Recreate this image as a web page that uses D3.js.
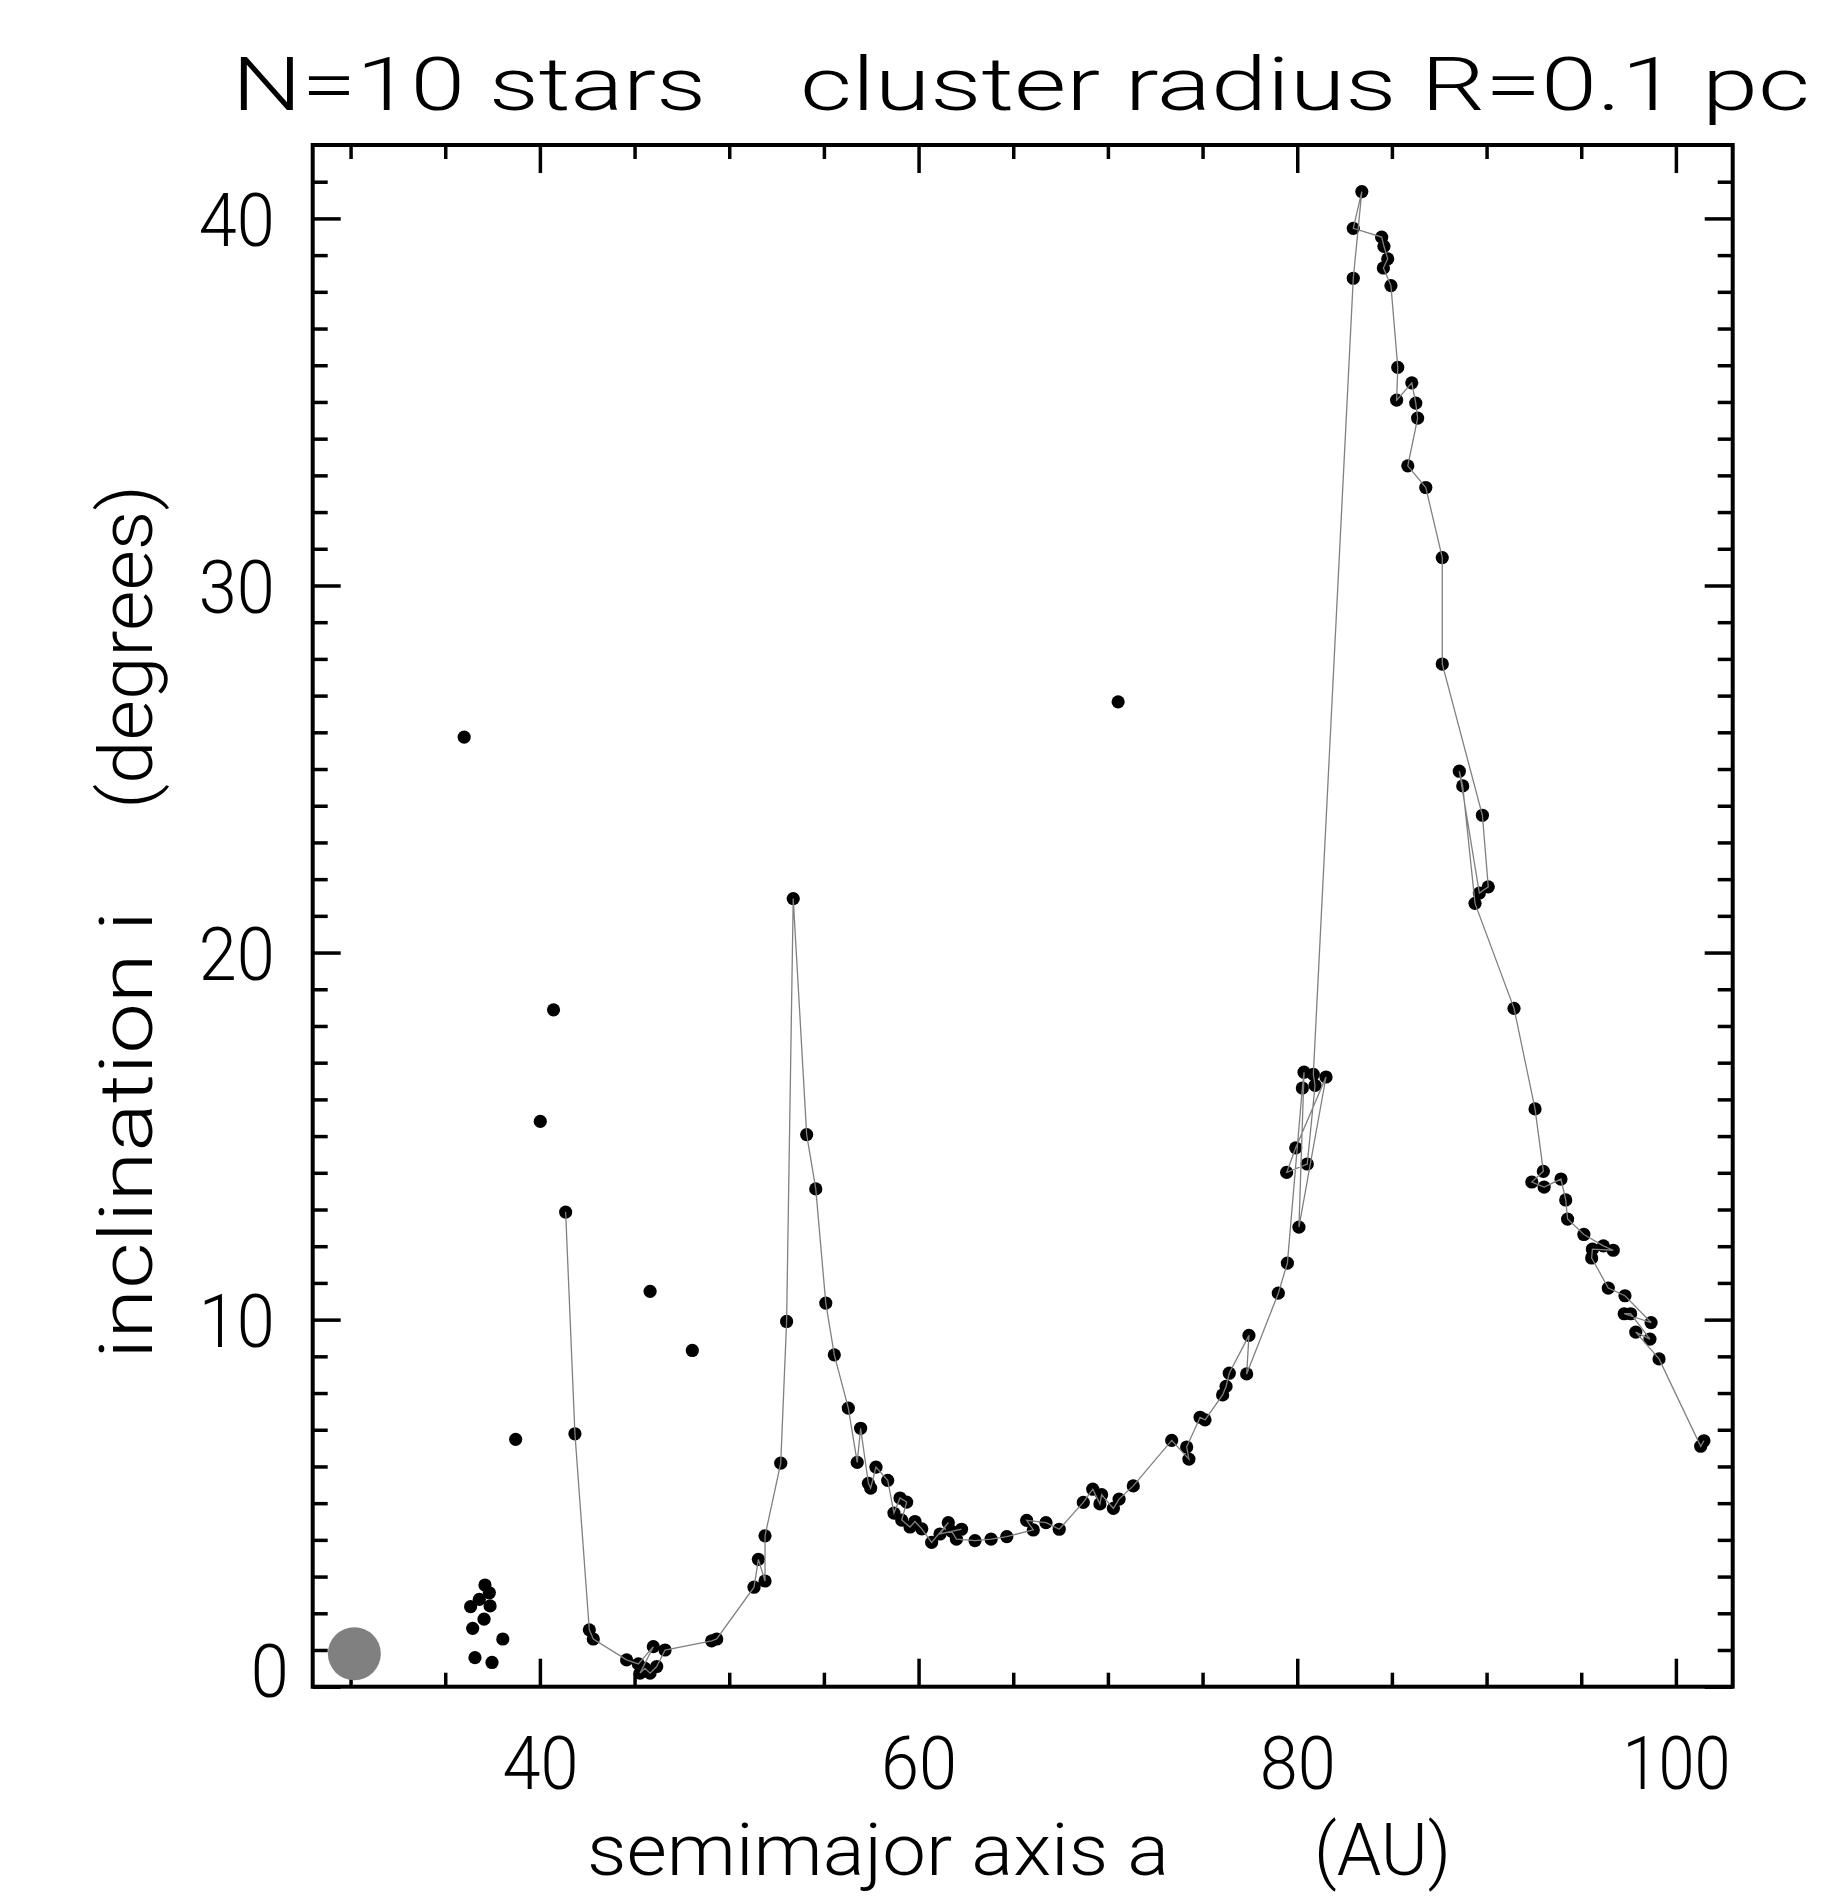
<!DOCTYPE html>
<html>
<head>
<meta charset="utf-8">
<script src="https://cdn.jsdelivr.net/npm/d3@7"></script>
<style>
  body { margin: 0; background: #fff; }
  svg { display: block; }
</style>
</head>
<body>
<div id="chart"></div>
<script>
// connected track (order as plotted)
const trackA = [41.36, 41.85, 42.61, 42.82, 44.58, 45.20, 45.99, 45.29, 45.55, 45.82, 46.17, 46.61,
  49.07, 49.34, 51.31, 51.54, 51.89, 51.89, 52.72, 53.03, 53.38, 54.09, 54.57, 55.10, 55.55,
  56.29, 56.76, 56.94, 57.35, 57.47, 57.75, 58.37, 58.70, 59.02, 59.37, 59.11, 59.55, 59.81,
  60.17, 60.69, 61.57, 61.13, 62.27, 61.75, 62.00, 62.98, 63.83, 64.66, 66.06, 65.71, 66.73,
  67.43, 68.70, 69.20, 69.58, 69.67, 70.29, 70.59, 71.34, 73.37, 74.28, 74.16, 74.87, 75.13,
  76.06, 76.24, 76.41, 77.45, 77.33, 79.00, 79.48, 80.27, 80.36, 80.09, 81.52, 79.92, 79.44,
  80.53, 80.94, 80.85, 82.96, 83.41, 82.96, 84.46, 84.58, 84.78, 84.55, 84.95, 85.31, 85.25,
  86.05, 86.26, 86.36, 85.84, 86.79, 87.66, 87.66, 89.78, 90.09, 89.62, 88.56, 88.74, 89.39,
  91.45, 92.56, 93.00, 92.39, 93.04, 93.93, 94.18, 94.28, 95.14, 96.17, 96.69, 95.59, 95.55,
  96.43, 97.31, 98.69, 97.27, 97.61, 98.63, 97.88, 99.11, 101.31, 101.48];
const trackI = [12.93, 6.89, 1.55, 1.30, 0.73, 0.62, 1.09, 0.37, 0.50, 0.37, 0.55, 1.00,
  1.25, 1.30, 2.71, 3.47, 2.88, 4.11, 6.09, 9.95, 21.47, 15.04, 13.56, 10.45, 9.04,
  7.59, 6.11, 7.04, 5.54, 5.41, 5.98, 5.62, 4.73, 5.14, 5.03, 4.54, 4.35, 4.50,
  4.30, 3.93, 4.47, 4.16, 4.29, 4.23, 4.02, 3.98, 4.02, 4.09, 4.27, 4.53, 4.47,
  4.29, 5.02, 5.38, 4.98, 5.23, 4.86, 5.11, 5.47, 6.71, 6.20, 6.53, 7.34, 7.27,
  7.95, 8.18, 8.54, 9.57, 8.52, 10.72, 11.54, 16.31, 16.74, 12.52, 16.61, 14.68, 14.01,
  14.24, 16.38, 16.68, 38.37, 40.73, 39.73, 39.49, 39.24, 38.90, 38.65, 38.17, 35.94, 35.05,
  35.52, 34.97, 34.56, 33.26, 32.67, 30.76, 27.86, 23.74, 21.79, 21.62, 24.94, 24.54, 21.34,
  18.48, 15.74, 14.04, 13.75, 13.61, 13.83, 13.26, 12.74, 12.32, 12.01, 11.89, 11.92, 11.68,
  10.86, 10.65, 9.92, 10.16, 10.16, 9.47, 9.66, 8.93, 6.55, 6.70];

// single dots without a track
const loneA = [37.10, 37.33, 36.80, 36.34, 37.37, 37.05, 36.45, 38.04, 36.57, 37.47,
  38.72, 36.00, 40.72, 40.02, 45.82, 48.05, 70.54];
const loneI = [2.77, 2.56, 2.38, 2.18, 2.20, 1.84, 1.59, 1.30, 0.79, 0.66,
  6.74, 25.87, 18.44, 15.40, 10.77, 9.16, 26.83];

// Neptune
const planetA = [30.2];
const planetI = [0.9];

const xMajor = [40, 60, 80, 100];
const xMinor = [30, 35, 45, 50, 55, 65, 70, 75, 85, 90, 95];
const yMajor = [0, 10, 20, 30, 40];

const titleParts = ["N=10 stars", "cluster radius R=0.1 pc"];
const xLabelParts = ["semimajor axis a", "(AU)"];
const yLabelParts = ["inclination i", "(degrees)"];

const width = 1828, height = 1899;
const plotL = 312.7, plotR = 1732.7, plotT = 145, plotB = 1686.7;
const font = "Roboto, 'Liberation Sans', Arial, sans-serif";
const fw = 300;
const fs = 75;

const x = d3.scaleLinear().domain([28, 103]).range([plotL, plotR]);
const y = d3.scaleLinear().domain([0, 42]).range([plotB, plotT]);
const yMinor = d3.range(1, 42).filter(v => v % 10 !== 0);

const svg = d3.select("#chart").append("svg")
  .attr("width", width)
  .attr("height", height);

// axes: minor + major ticks on all four sides
function ticks(axis, pos) {
  const g = svg.append("g").attr("transform", pos).call(axis);
  g.select(".domain").remove();
  g.selectAll(".tick line").attr("stroke", "#000").attr("stroke-width", 3.5);
  return g;
}
ticks(d3.axisBottom(x).tickValues(xMinor).tickSize(-14).tickFormat(""), `translate(0,${plotB})`);
ticks(d3.axisTop(x).tickValues(xMinor).tickSize(-14).tickFormat(""), `translate(0,${plotT})`);
ticks(d3.axisTop(x).tickValues(xMajor).tickSize(-28).tickFormat(""), `translate(0,${plotT})`);
ticks(d3.axisLeft(y).tickValues(yMinor).tickSize(-15).tickFormat(""), `translate(${plotL},0)`);
ticks(d3.axisRight(y).tickValues(yMinor).tickSize(-15).tickFormat(""), `translate(${plotR},0)`);
ticks(d3.axisRight(y).tickValues(yMajor).tickSize(-28).tickFormat(""), `translate(${plotR},0)`);

const gx = ticks(d3.axisBottom(x).tickValues(xMajor).tickSize(-28).tickPadding(48), `translate(0,${plotB})`);
gx.selectAll("text")
  .attr("font-family", font).attr("font-weight", fw).attr("font-size", fs).attr("fill", "#000")
  .attr("dy", "0.72em")
  .attr("textLength", d => String(d).length * 38 - (String(d).startsWith("1") ? 6 : 0))
  .attr("lengthAdjust", "spacingAndGlyphs");

const gy = ticks(d3.axisLeft(y).tickValues(yMajor).tickSize(-28).tickPadding(38), `translate(${plotL},0)`);
gy.selectAll("text")
  .attr("font-family", font).attr("font-weight", fw).attr("font-size", fs).attr("fill", "#000")
  .attr("dy", "0.36em")
  .attr("textLength", d => String(d).length * 38)
  .attr("lengthAdjust", "spacingAndGlyphs");
// IDL nudges the bottom label up and right
gy.selectAll(".tick").filter(d => d === 0).select("text")
  .attr("x", -24).attr("y", -17);

svg.append("rect")
  .attr("x", plotL).attr("y", plotT)
  .attr("width", plotR - plotL).attr("height", plotB - plotT)
  .attr("fill", "none").attr("stroke", "#000").attr("stroke-width", 4);

// dots
const track = trackA.map((a, k) => ({ a: a, i: trackI[k] }));
const lone = loneA.map((a, k) => ({ a: a, i: loneI[k] }));

svg.append("g").selectAll("circle")
  .data(track.concat(lone))
  .join("circle")
  .attr("cx", d => x(d.a))
  .attr("cy", d => y(d.i))
  .attr("r", 6.6)
  .attr("fill", "#000");

svg.append("path")
  .datum(track)
  .attr("fill", "none")
  .attr("stroke", "#808080")
  .attr("stroke-width", 1.3)
  .attr("d", d3.line().x(d => x(d.a)).y(d => y(d.i)));

svg.append("g").selectAll("circle")
  .data(planetA.map((a, k) => ({ a: a, i: planetI[k] })))
  .join("circle")
  .attr("cx", d => x(d.a))
  .attr("cy", d => y(d.i))
  .attr("r", 26.5)
  .attr("fill", "#808080");

// texts
function label(str, tx, ty, len, rot, size) {
  svg.append("text")
    .attr("transform", `translate(${tx},${ty})` + (rot ? " rotate(-90)" : ""))
    .attr("font-family", font)
    .attr("font-weight", fw)
    .attr("font-size", size || fs)
    .attr("fill", "#000")
    .attr("textLength", len)
    .attr("lengthAdjust", "spacingAndGlyphs")
    .text(str);
}
label(titleParts[0], 232, 110, 474);
label(titleParts[1], 800, 110, 1010);
label(xLabelParts[0], 587, 1875, 582, false, 72);
label(xLabelParts[1], 1314, 1875, 137, false, 72);
label(yLabelParts[0], 151.5, 1359, 448, true);
label(yLabelParts[1], 151.5, 809, 324, true);
</script>
</body>
</html>
